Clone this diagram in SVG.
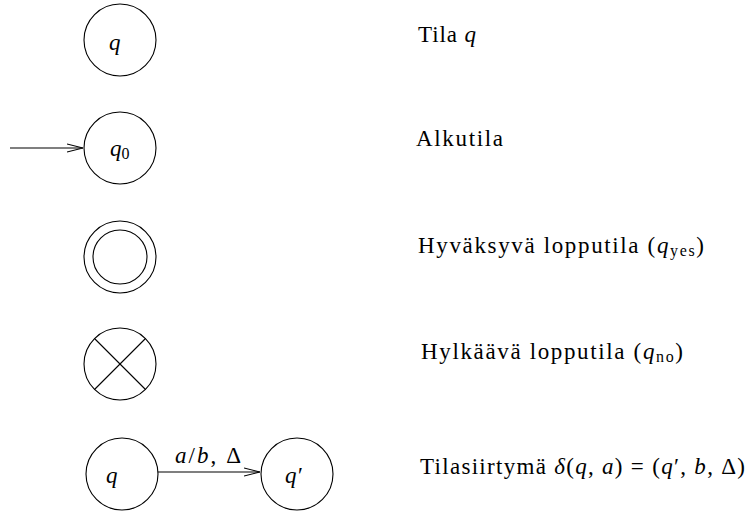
<svg xmlns="http://www.w3.org/2000/svg" width="748" height="512" viewBox="0 0 748 512">
<style>
.st{fill:none;stroke:#000;stroke-width:1.1}
.ln{fill:none;stroke:#000;stroke-width:1.1}
.t{font-family:"Liberation Serif","DejaVu Serif",serif;font-size:23px;fill:#000}
.m{font-family:"Liberation Serif","DejaVu Serif",serif;font-size:23px;font-style:italic;fill:#000}
.i{font-style:italic}
.s{font-size:16px;font-style:normal}
</style>
<defs>
<marker id="ah" viewBox="0 0 16 10" refX="16" refY="5" markerWidth="16" markerHeight="10" markerUnits="userSpaceOnUse" orient="auto">
<path d="M0,1 L16,5 L0,9" fill="none" stroke="#000" stroke-width="1.1"/>
</marker>
</defs>
<rect width="748" height="512" fill="#fff"/>
<g id="connectors">
<line class="ln" x1="10" y1="148" x2="83" y2="148" marker-end="url(#ah)"/>
<line class="ln" x1="158" y1="472" x2="260" y2="472" marker-end="url(#ah)"/>
<text class="m" x="175" y="463" textLength="66">a<tspan font-style="normal">/</tspan>b<tspan font-style="normal">, Δ</tspan></text>
</g>
<g id="state-q">
<circle class="st" cx="120" cy="40" r="36"/>
<text class="m" x="109" y="50">q</text>
</g>
<g id="state-q0">
<circle class="st" cx="120" cy="148" r="36"/>
<text class="m" x="110" y="156">q<tspan class="s" dy="3">0</tspan></text>
</g>
<g id="state-accept">
<circle class="st" cx="120" cy="257" r="36"/>
<circle class="st" cx="120" cy="257" r="27"/>
</g>
<g id="state-reject">
<circle class="st" cx="120" cy="364" r="36"/>
<line class="ln" x1="94.5" y1="338.5" x2="145.5" y2="389.5"/>
<line class="ln" x1="145.5" y1="338.5" x2="94.5" y2="389.5"/>
</g>
<g id="state-t1">
<circle class="st" cx="122" cy="474" r="36"/>
<text class="m" x="106" y="483">q</text>
</g>
<g id="state-t2">
<circle class="st" cx="297" cy="474" r="36"/>
<text class="m" x="285" y="483">q′</text>
</g>
<g id="legend">
<text class="t" x="418" y="42" textLength="58">Tila <tspan class="i">q</tspan></text>
<text class="t" x="416" y="146" textLength="87">Alkutila</text>
<text class="t" x="418" y="253" textLength="286">Hyväksyvä lopputila (<tspan class="i">q</tspan><tspan class="s" dy="3">yes</tspan><tspan dy="-3">)</tspan></text>
<text class="t" x="421" y="359" textLength="262">Hylkäävä lopputila (<tspan class="i">q</tspan><tspan class="s" dy="3">no</tspan><tspan dy="-3">)</tspan></text>
<text class="t" x="420" y="474" textLength="325">Tilasiirtymä <tspan class="i">δ</tspan>(<tspan class="i">q</tspan>, <tspan class="i">a</tspan>) = (<tspan class="i">q</tspan>′, <tspan class="i">b</tspan>, Δ)</text>
</g>
</svg>
